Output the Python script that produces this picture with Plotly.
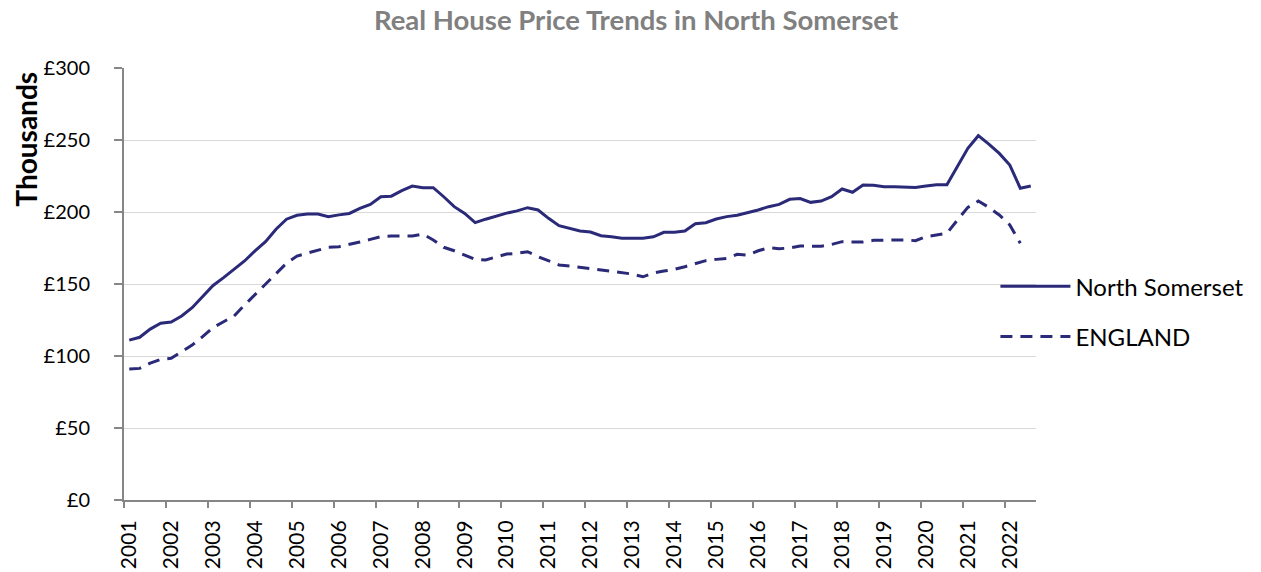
import plotly.graph_objects as go

years = [str(y) for y in range(2001, 2023)]

north_somerset = [111, 113, 118.7, 122.8, 123.6, 127.8, 133.5, 141, 149, 154.4, 160, 166, 173, 179.4, 188, 195, 197.7, 198.6,
                  198.6, 196.8, 198, 199, 202.5, 205.3, 210.6, 211, 214.8, 218, 216.9, 216.9, 210.6, 203.7, 199, 192.6, 195, 197.2, 199.2,
                  200.8, 203, 201.4, 195.6, 190.5, 188.7, 186.8, 186.1, 183.5, 182.8, 181.7, 181.7, 181.7, 182.8, 185.9, 185.9, 186.8, 191.8,
                  192.6, 195.1, 196.8, 197.7, 199.5, 201.4, 203.7, 205.3, 208.8, 209.3, 206.7, 207.6, 210.6, 216, 213.7, 218.8, 218.6,
                  217.6, 217.6, 217.6, 217.1, 218, 219, 219, 231.5, 244.2, 253, 247.2, 240.7, 232.6, 216.5, 218]

england = [91, 91.4, 95, 97.7, 98.4, 103, 107.6, 113.4, 119.7, 123.8, 127.8, 135.4, 142.8, 150, 157.4, 164.4, 169.4, 171.3,
           173.6, 175.5, 175.9, 177.8, 179.2, 181, 182.9, 183.3, 183.3, 183.3, 184.7, 180.6, 175.5, 173.1, 170.1, 167.1, 166.7, 168.5, 170.8,
           171.3, 172.4, 169, 166, 163.2, 162.5, 161.6, 160.9, 159.7, 159, 158.1, 156.9, 155, 157.6, 159, 160.2, 162, 164.2,
           166.2, 167.1, 167.8, 170.6, 170.1, 173.1, 175.2, 174.5, 175, 176.4, 176.4, 176.2, 177.5, 179.4, 179.2, 179.2, 180.3,
           180.6, 180.6, 180.6, 180.1, 182.9, 183.8, 185.2, 194.4, 203.2, 207.6, 203.2, 197.9, 191, 178.3]

quarters_per_year = 4
n_quarters = len(north_somerset)
x_ns = list(range(len(north_somerset)))
x_en = list(range(len(england)))

LINE = "#2b2a78"
AXIS = "#868686"
GRID = "#d9d9d9"
FONT = "Lato"

W, H = 1261, 572
fig = go.Figure()
fig.add_trace(go.Scatter(x=x_ns, y=north_somerset, mode="lines", name="North Somerset",
                         line=dict(color=LINE, width=3), legendgroup="a"))
fig.add_trace(go.Scatter(x=x_en, y=england, mode="lines", name="ENGLAND",
                         line=dict(color=LINE, width=3, dash="12px,8px"), legendgroup="b"))

tickvals = [i * quarters_per_year for i in range(len(years))]
minor_vals = [v - 0.5 for v in tickvals]

fig.update_layout(
    width=W, height=H, autosize=False,
    paper_bgcolor="white", plot_bgcolor="white",
    margin=dict(l=124, r=219, t=68, b=72),
    font=dict(family=FONT, size=21, color="black"),
    title=dict(text="<b>Real House Price Trends in North Somerset</b>", x=636 / W, xref="container",
               y=1 - 20 / H, yref="container", xanchor="center", yanchor="middle",
               font=dict(family=FONT, size=27.5, color="#808080")),
    showlegend=True,
    legend=dict(x=0.9555, y=0.436, xanchor="left", yanchor="middle", bgcolor="rgba(0,0,0,0)",
                font=dict(family=FONT, size=24, color="black"), tracegroupgap=16,
                traceorder="grouped", itemwidth=70),
    xaxis=dict(range=[-0.5, n_quarters - 0.5], tickmode="array", tickvals=tickvals, ticktext=years,
               tickangle=-90, ticks="", showgrid=False, zeroline=False, automargin=False,
               showline=True, linecolor=AXIS, linewidth=2, ticklabelstandoff=10,
               tickfont=dict(family=FONT, size=21, color="black"),
               minor=dict(tickmode="array", tickvals=minor_vals, ticks="outside", ticklen=6,
                          tickcolor=AXIS, tickwidth=2, showgrid=False)),
    yaxis=dict(range=[0, 300], tickmode="linear", tick0=0, dtick=50, tickprefix="£",
               showgrid=True, gridcolor=GRID, gridwidth=1, zeroline=False, automargin=False,
               showline=True, linecolor=AXIS, linewidth=2, ticks="outside", ticklen=8,
               tickcolor=AXIS, tickwidth=2, ticklabelstandoff=20,
               tickfont=dict(family=FONT, size=20, color="black")),
    annotations=[dict(text="<b>Thousands</b>", xref="paper", yref="paper",
                      x=(25 - 124) / 918, y=(500 - 139) / 432, xanchor="center", yanchor="middle",
                      textangle=-90, showarrow=False,
                      font=dict(family=FONT, size=28, color="black"))],
)

fig.write_html("out.html", config={"displayModeBar": False},
               post_script="document.body.style.margin='0';")
